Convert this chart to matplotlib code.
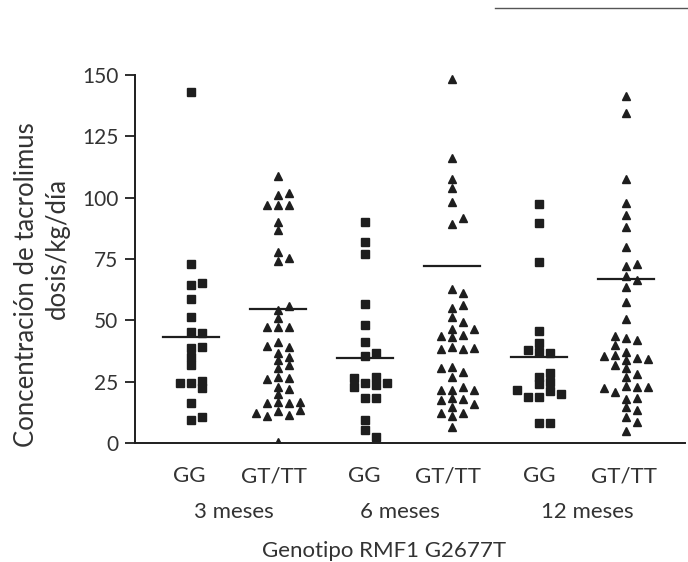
import matplotlib.pyplot as plt
import matplotlib.lines as mlines
import numpy as np

plt.rcParams['font.family'] = ['Lato', 'DejaVu Sans']

# valores (dosis/kg/dia)
gg3 = [143, 73, 64.4, 65.2, 58.7, 51.5, 45.4, 44.8, 38.7, 39.3, 35.2, 31.8,
       24.6, 22.3, 24.3, 25.4, 16.3, 9.4, 10.6]
gt3 = [109, 101, 102, 97, 97, 97, 90, 87, 78, 75.5, 74, 54.2, 55.8, 51,
       47.3, 47.3, 47.3, 41.3, 39.3, 39.7, 36.8, 33.8, 31.8, 34.9, 30.4, 27,
       26.4, 26, 23, 21.9, 19.8, 16.8, 16.2, 16.2, 16.8, 13, 13.5, 11.4, 11.1,
       12.1, 0.5]
gg6 = [90, 82, 77, 56.7, 48.1, 41.3, 35.5, 36.6, 24.6, 27, 23.6, 23, 24.3,
       26.4, 18.2, 18.2, 9.4, 5.3, 2.6]
gt6 = [148.4, 116, 107.5, 103.8, 98.4, 89.2, 91.8, 62.7, 61.3, 54.9, 56.3,
       51.5, 49.5, 46.5, 44, 43.3, 43.6, 46.5, 39, 38.3, 38.3, 38.6, 30.9, 27,
       29.1, 30.4, 21.6, 23, 21.6, 21.6, 18.2, 17.8, 17.5, 14.8, 15.9, 12.1,
       12.1, 11.1, 6.6]
gg12 = [97.4, 89.6, 73.7, 45.7, 40.6, 37.2, 36.6, 37.9, 27, 23.9, 25, 28.4,
        21.2, 18.9, 18.9, 19.9, 21.6, 8, 8]
gt12 = [141.5, 134.4, 107.5, 98, 93, 88.2, 80, 72.3, 73, 68, 66.4, 63.5,
        57.4, 50.4, 42.7, 42, 43.6, 40, 37.2, 34.8, 35.9, 33.8, 34.1, 35.5,
        30.4, 31.8, 26.8, 28, 23.4, 23, 20.9, 22.7, 22.5, 17.8, 18.5, 14.5,
        13.5, 10.7, 8.7, 4.9]

grupos = [gg3, gt3, gg6, gt6, gg12, gt12]
lineas = [43, 54.5, 34.5, 72.2, 35, 66.7]
genotipos = ['GG', 'GT/TT', 'GG', 'GT/TT', 'GG', 'GT/TT']
meses = ['3 meses', '6 meses', '12 meses']


def enjambre(vals, paso=0.126, dmin=3.0):
    # columnas tipo beeswarm
    puestos = []
    offs = []
    orden = [0]
    for i in range(1, 8):
        orden += [i, -i]
    for v in vals:
        for k in orden:
            if all(not (kk == k and abs(vv - v) < dmin) for vv, kk in puestos):
                break
        puestos.append((v, k))
        offs.append(k * paso)
    return np.array(offs)


fig = plt.figure(figsize=(6.88, 5.62), dpi=100)
ax = fig.add_axes([0.196, 0.2117, 0.7996, 0.655])

col = '#1e1e1e'
txt = '#333333'
for i, vals in enumerate(grupos):
    x = i + 1 + enjambre(vals)
    if i % 2 == 0:
        ax.plot(x, vals, 's', ms=5.2, color=col, mec=col)
    else:
        ax.plot(x, vals, '^', ms=6.3, color=col, mec=col)
    ax.plot([i + 1 - 0.32, i + 1 + 0.32], [lineas[i]] * 2, color=col, lw=1.6)

ax.set_xlim(0.356, 6.678)
ax.set_ylim(0, 150)
ax.set_yticks(range(0, 151, 25))
ax.set_xticks([])
ax.spines['top'].set_visible(False)
ax.spines['right'].set_visible(False)
for s in ['left', 'bottom']:
    ax.spines[s].set_linewidth(1.4)
    ax.spines[s].set_color(col)
ax.tick_params(axis='y', labelsize=15, length=7, width=1.3, pad=5,
               colors=col, labelcolor=txt)

tr = ax.get_xaxis_transform()
for xp, t in zip([0.98, 1.95, 2.99, 3.96, 5.0, 5.98], genotipos):
    ax.text(xp, -0.106, t, transform=tr, ha='center', va='baseline',
            fontsize=16, color=txt)
for xp, t in zip([1.49, 3.40, 5.55], meses):
    ax.text(xp, -0.204, t, transform=tr, ha='center', va='baseline',
            fontsize=16, color=txt)

fig.text(0.558, 0.0094, 'Genotipo RMF1 G2677T', ha='center', va='baseline',
         fontsize=16, color=txt)
fig.text(0.039, 0.493, 'Concentración de tacrolimus', rotation=90,
         ha='center', va='center', fontsize=18.5, color=txt)
fig.text(0.083, 0.557, 'dosis/kg/día', rotation=90,
         ha='center', va='center', fontsize=18.5, color=txt)

# raya del escaneo arriba a la derecha
fig.add_artist(mlines.Line2D([0.72, 1.0], [0.986, 0.986], color='#555555',
                             lw=1.0, transform=fig.transFigure))

fig.savefig('out.png', dpi=100)
